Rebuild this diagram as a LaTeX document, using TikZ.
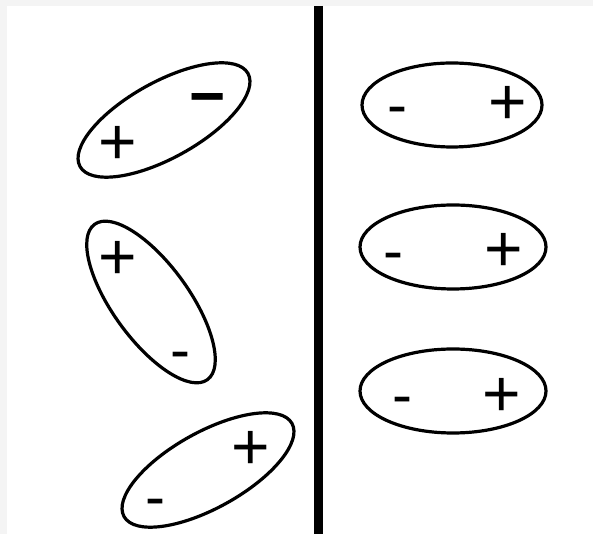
\documentclass[tikz,border=0pt]{standalone}
\usepackage{fontspec}
\setmainfont{Liberation Sans}
\usepackage{tikz}
\usetikzlibrary{shapes.geometric}
\definecolor{framegray}{HTML}{F4F4F4}

\begin{document}
\begin{tikzpicture}[
      x=1pt,y=1pt,
      dipole/.style={ellipse,draw,line width=3.2pt,inner sep=0pt},
      tilted/.style={dipole,minimum width=192,minimum height=76},
      flat/.style={dipole,minimum width=184,minimum height=84},
      sign/.style={inner sep=0pt,font=\fontsize{66}{66}\selectfont},
      small/.style={inner sep=0pt,font=\fontsize{60}{60}\selectfont}
    ]
    \fill[framegray] (0,0) rectangle (593,534);
    \fill[white] (7,0) rectangle (593,528);
    \useasboundingbox (0,0) rectangle (593,534);
    % dividing wall
    \coordinate (walltop) at (318,528);
    \coordinate (wallbot) at (318,0);
    \draw[line width=9pt] (walltop) -- (wallbot);
    % left side, random orientation
    \node[tilted,rotate=29] (la) at (164,414) {};
    \node[tilted,rotate=-54] (lb) at (151,232) {};
    \node[tilted,rotate=29] (lc) at (208,64) {};
    \node[sign,font=\fontsize{62}{62}\selectfont\bfseries] (laminus) at (208,428) {−};
    \node[sign] (laplus) at (118,389) {+};
    \node[sign] (lbplus) at (118,274) {+};
    \node[small] (lbminus) at (180,173) {-};
    \node[sign] (lcplus) at (251,84) {+};
    \node[small] (lcminus) at (155,26) {-};
    % right side, aligned
    \node[flat,minimum width=180] (ra) at (452,429) {};
    \node[flat,minimum width=186] (rb) at (453,287) {};
    \node[flat,minimum width=186] (rc) at (453,143) {};
    \node[small] (raminus) at (397,418) {-};
    \node[sign] (raplus) at (508,429) {+};
    \node[small] (rbminus) at (393,272) {-};
    \node[sign] (rbplus) at (504,282) {+};
    \node[small] (rcminus) at (402,128) {-};
    \node[sign] (rcplus) at (502,137) {+};
  \end{tikzpicture}
\end{document}
